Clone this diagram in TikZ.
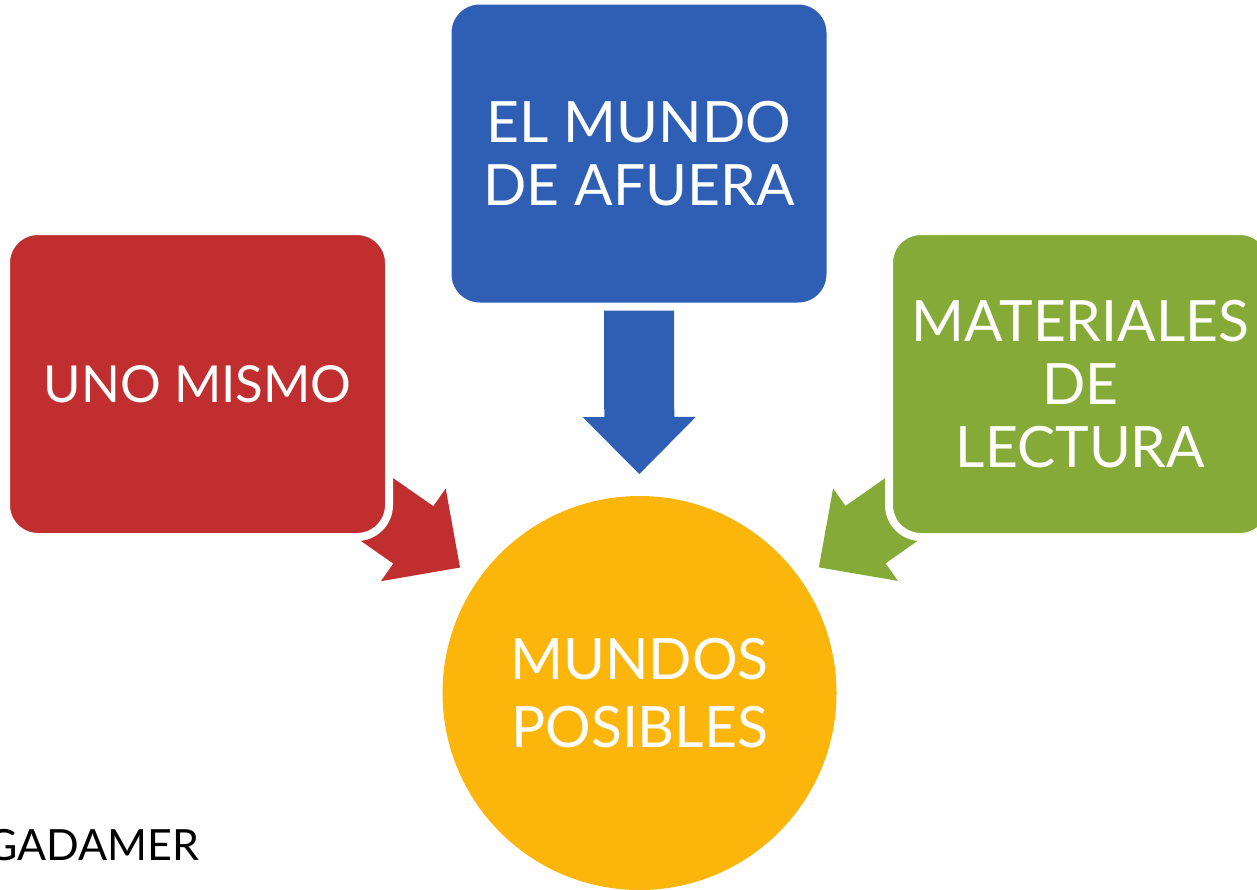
\documentclass[tikz,border=0pt]{standalone}
\usepackage{fontspec}
\setmainfont{Lato}
\usetikzlibrary{calc, backgrounds}

\definecolor{selfred}{HTML}{C12E2F}
\definecolor{worldblue}{HTML}{2F5EB5}
\definecolor{readgreen}{HTML}{86AA37}
\definecolor{possyellow}{HTML}{FCB60B}

\begin{document}
\begin{tikzpicture}[
        x=1pt, y=-1pt,
        every node/.style={font=\fontsize{57}{63}\selectfont},
        box/.style={rectangle, draw=white, line width=8pt, rounded corners=32pt, minimum width=383pt, minimum height=306pt, inner sep=0pt, align=center, text=white},
        world/.style={circle, fill=possyellow, minimum size=394pt, inner sep=0pt, align=center, text=white}
    ]
        \useasboundingbox (0,0) rectangle (1257,889);

        \node[world] (posibles) at (639.5,693) {MUNDOS\\[5pt]POSIBLES};
        \node[box, fill=worldblue] (mundo) at (639,153.5) {EL MUNDO\\DE AFUERA};
        \node[box, fill=selfred, font=\fontsize{51}{57}\selectfont] (uno) at (197.5,384) {UNO MISMO};
        \node[box, fill=readgreen] (materiales) at (1080.5,384) {MATERIALES\\DE\\LECTURA};

        \node[anchor=base east, font=\fontsize{43}{49}\selectfont] (gadamer) at (203,860) {GADAMER};

        % Block arrows (behind the boxes)
        \foreach \src/\col in {uno/selfred, mundo/worldblue, materiales/readgreen} {
            \begin{scope}[on background layer]
                \coordinate (\src-tip) at ($(posibles.center)!219pt!(\src.center)$);
                \coordinate (\src-head) at ($(posibles.center)!276pt!(\src.center)$);
                \coordinate (\src-tail) at ($(posibles.center)!385pt!(\src.center)$);
                \fill[\col] ($(\src-tail)!35pt!90:(\src-tip)$) -- ($(\src-head)!35pt!90:(\src-tip)$)
                    -- ($(\src-head)!56.5pt!90:(\src-tip)$) -- (\src-tip)
                    -- ($(\src-head)!56.5pt!-90:(\src-tip)$) -- ($(\src-head)!35pt!-90:(\src-tip)$)
                    -- ($(\src-tail)!35pt!-90:(\src-tip)$) -- cycle;
            \end{scope}
        }

    \end{tikzpicture}
\end{document}
